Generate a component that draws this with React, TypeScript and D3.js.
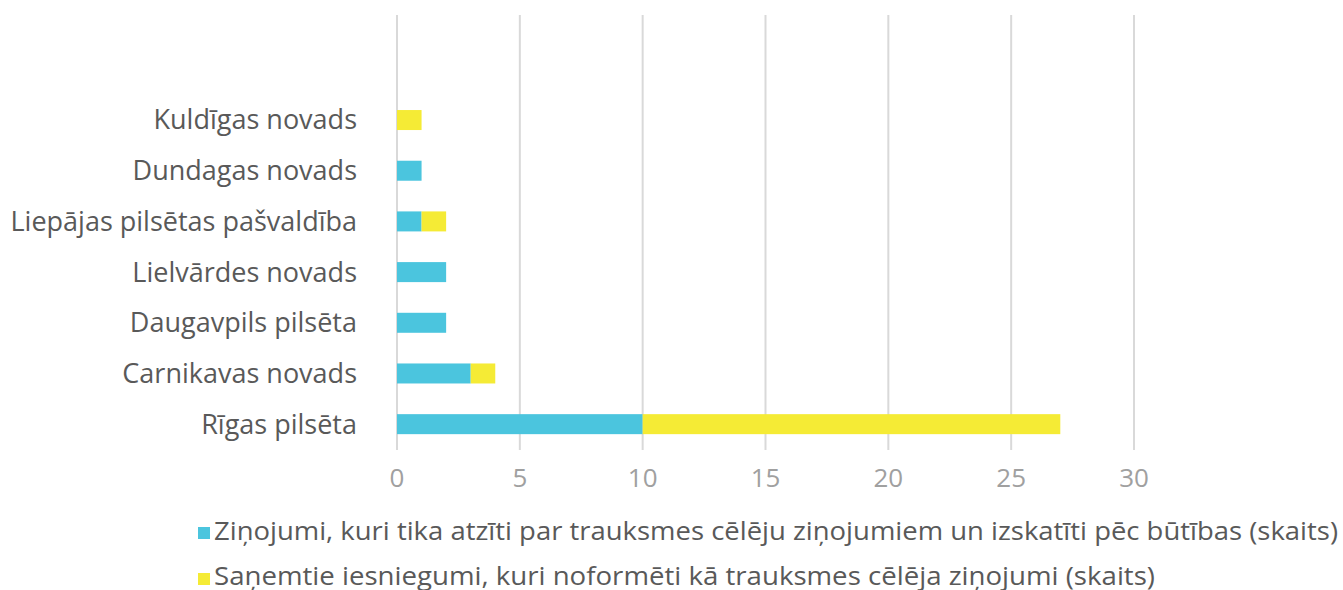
import React, { useEffect } from "react";
import * as d3 from "d3";

const categories = [
  "Kuldīgas novads",
  "Dundagas novads",
  "Liepājas pilsētas pašvaldība",
  "Lielvārdes novads",
  "Daugavpils pilsēta",
  "Carnikavas novads",
  "Rīgas pilsēta",
];
const seriesReviewed = [0, 1, 1, 2, 2, 3, 10];
const seriesReceived = [1, 0, 1, 0, 0, 1, 17];
const seriesNames = [
  "Ziņojumi, kuri tika atzīti par trauksmes cēlēju ziņojumiem un izskatīti pēc būtības (skaits)",
  "Saņemtie iesniegumi, kuri noformēti kā trauksmes cēlēja ziņojumi (skaits)",
];
const legendWidths = [1124, 941];
const xTicks = [0, 5, 10, 15, 20, 25, 30];
const colors = ["#4BC5DE", "#F5EB35"];

const W = 1343;
const H = 590;
const FONT = "'Open Sans', 'Noto Sans', sans-serif";

export default function App() {
  useEffect(() => {
    document.body.style.margin = "0";
  }, []);

  const x = d3.scaleLinear().domain([0, 30]).range([397, 1134]);
  const y = d3.scaleBand().domain(categories).range([94.7, 449.5]).paddingInner(0.6).paddingOuter(0.3);

  const rows = categories.map((c, i) => ({
    c,
    segs: [
      { x0: 0, x1: seriesReviewed[i], color: colors[0] },
      { x0: seriesReviewed[i], x1: seriesReviewed[i] + seriesReceived[i], color: colors[1] },
    ],
  }));

  return (
    <svg width={W} height={H} style={{ display: "block", background: "#fff" }}>
      {xTicks.map((t) => (
        <line key={"g" + t} x1={x(t)} x2={x(t)} y1={15} y2={450} stroke="#d9d9d9" strokeWidth={2} />
      ))}
      {rows.map((r) =>
        r.segs
          .filter((s) => s.x1 > s.x0)
          .map((s, j) => (
            <rect
              key={r.c + j}
              x={x(s.x0)}
              y={y(r.c)! + y.bandwidth() / 2 - 10}
              width={x(s.x1) - x(s.x0)}
              height={20}
              fill={s.color}
            />
          ))
      )}
      {categories.map((c) => (
        <text
          key={"l" + c}
          x={357}
          y={y(c)! + y.bandwidth() / 2}
          dy="0.35em"
          textAnchor="end"
          fontFamily={FONT}
          fontSize={27}
          fill="#595959"
        >
          {c}
        </text>
      ))}
      {xTicks.map((t) => (
        <text
          key={"t" + t}
          x={x(t)}
          y={478}
          dy="0.35em"
          textAnchor="middle"
          fontFamily={FONT}
          fontSize={26}
          fill="#a0a0a0"
        >
          {t}
        </text>
      ))}
      {seriesNames.map((n, i) => (
        <g key={"lg" + i}>
          <rect x={198} y={527 + i * 46} width={12} height={12} fill={colors[i]} />
          <text
            x={214}
            y={531 + i * 45}
            dy="0.35em"
            fontFamily={FONT}
            fontSize={26}
            fill="#595959"
            textLength={legendWidths[i]}
            lengthAdjust="spacingAndGlyphs"
          >
            {n}
          </text>
        </g>
      ))}
    </svg>
  );
}
